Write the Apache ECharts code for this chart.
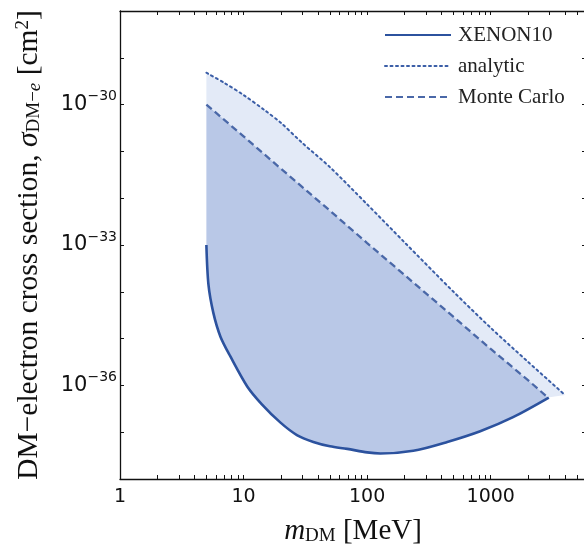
<!DOCTYPE html>
<html>
<head>
<meta charset="utf-8">
<script src="https://cdn.jsdelivr.net/npm/echarts@6/dist/echarts.min.js"></script>
<style>
    html, body { margin: 0; padding: 0; background: #fff; }
    #chart { width: 584px; height: 553px; }
</style>
</head>
<body>
<div id="chart"></div>
<script>
    // m_DM [MeV] and sigma [cm^2]
    var analyticMass = [5, 7, 10, 15, 20, 30, 50, 100, 200, 500, 1000, 2000, 4000];
    var analyticSigma = [4.8e-30, 2.9e-30, 1.6e-30, 7.4e-31, 4.1e-31, 1.5e-31, 4.6e-32, 7.4e-33, 1.15e-33, 1.0e-34, 1.7e-35, 3.2e-36, 6.2e-37];

    var mcMass = [5, 10, 20, 50, 100, 200, 500, 1000, 2000, 2900];
    var mcSigma = [1.0e-30, 2.1e-31, 4.3e-32, 5.4e-33, 1.1e-33, 2.3e-34, 2.9e-35, 6.0e-36, 1.3e-36, 5.5e-37];

    var xenonMass = [5, 5.2, 5.7, 6.5, 7.8, 10.7, 14, 19.9, 27, 36.7, 50, 69, 100, 128, 236, 445, 822, 1516, 2950];
    var xenonSigma = [1.0e-33, 1.4e-34, 3.5e-35, 1.1e-35, 4.2e-36, 9.5e-37, 4.0e-37, 1.6e-37, 8.7e-38, 6.2e-38, 5.0e-38, 4.4e-38, 3.7e-38, 3.5e-38, 4.0e-38, 6.2e-38, 1.05e-37, 2.1e-37, 5.5e-37];

    var xTicks = [1, 2, 3, 4, 5, 6, 7, 8, 9, 10, 20, 30, 40, 50, 60, 70, 80, 90,
        100, 200, 300, 400, 500, 600, 700, 800, 900, 1000, 2000, 3000, 4000, 5000];
    var xLabels = [1, 10, 100, 1000];
    var yTicks = [1e-38, 1e-37, 1e-36, 1e-35, 1e-34, 1e-33, 1e-32, 1e-31, 1e-30, 1e-29, 1e-28];
    var yLabels = [1e-36, 1e-33, 1e-30];

    // echarts rounds log extents badly near 1e-38, so the y axis runs in units of 1e-30 cm^2
    var Y_UNIT = 1e-30;
    var Y_EXP = -30;
    function toUnit(v) { return v / Y_UNIT; }

    function pairs(xs, ys) {
        return xs.map(function (x, i) { return [x, toUnit(ys[i])]; });
    }

    // band between two curves, drawn through the axes
    function band(upper, lower, color) {
        return {
            type: 'custom',
            silent: true,
            z: 1,
            clip: true,
            data: [upper[0]],
            renderItem: function (params, api) {
                var pts = upper.concat(lower.slice().reverse()).map(function (p) {
                    return api.coord(p);
                });
                return {type: 'polygon', shape: {points: pts}, style: {fill: color}};
            }
        };
    }

    var analytic = pairs(analyticMass, analyticSigma);
    var mc = pairs(mcMass, mcSigma);
    var xenon = pairs(xenonMass, xenonSigma);

    var tickFont = 'DejaVu Sans';
    var serif = 'Liberation Serif';
    var black = '#111';

    var xBase = {
        type: 'log',
        logBase: 10,
        min: 1,
        max: 5900,
        z: 10,
        axisLine: {onZero: false, lineStyle: {color: black, width: 1.3}},
        axisTick: {inside: true, length: 4, customValues: xTicks, lineStyle: {color: black}},
        splitLine: {show: false}
    };
    var yBase = {
        type: 'log',
        logBase: 10,
        min: toUnit(1e-38),
        max: toUnit(1e-28),
        z: 10,
        axisLine: {onZero: false, lineStyle: {color: black, width: 1.3}},
        axisTick: {inside: true, length: 4, customValues: yTicks.map(toUnit), lineStyle: {color: black}},
        splitLine: {show: false}
    };

    var myChart = echarts.init(document.getElementById('chart'));
    var option = {
        backgroundColor: '#fff',
        animation: false,
        grid: {left: 120, top: 11, width: 466, height: 468, outerBoundsMode: 'none'},
        legend: {
            orient: 'vertical',
            left: 379,
            top: 19,
            itemWidth: 66,
            itemHeight: 14,
            itemGap: 9,
            itemStyle: {opacity: 0},
            textStyle: {fontFamily: serif, fontSize: 21, lineHeight: 22, color: '#222', padding: [0, 0, 0, 2]},
            data: ['XENON10', 'analytic', 'Monte Carlo']
        },
        xAxis: [
            Object.assign({}, xBase, {
                position: 'bottom',
                axisLabel: {
                    customValues: xLabels,
                    margin: 9,
                    fontFamily: tickFont,
                    fontSize: 19,
                    color: black,
                    formatter: function (v) { return String(Math.round(v)); }
                },
                name: '{i|m}{s|DM}{n| [MeV]}',
                nameLocation: 'middle',
                nameGap: 38,
                nameTextStyle: {
                    rich: {
                        i: {fontFamily: serif, fontStyle: 'italic', fontSize: 29, color: black},
                        s: {fontFamily: serif, fontSize: 19, color: black, verticalAlign: 'bottom'},
                        n: {fontFamily: serif, fontSize: 29, color: black}
                    }
                }
            }),
            Object.assign({}, xBase, {position: 'top', axisLabel: {show: false}})
        ],
        yAxis: [
            Object.assign({}, yBase, {
                position: 'left',
                axisLabel: {
                    customValues: yLabels.map(toUnit),
                    margin: 3,
                    formatter: function (v) {
                        var e = Math.round(Math.log10(v)) + Y_EXP;
                        return '{b|10}{e|' + (e < 0 ? '\u2212' : '') + Math.abs(e) + '}';
                    },
                    rich: {
                        b: {fontFamily: tickFont, fontSize: 21, color: black, lineHeight: 30},
                        e: {fontFamily: tickFont, fontSize: 14, color: black, verticalAlign: 'top', lineHeight: 14}
                    }
                },
                name: '{n|DM\u2212electron cross section, }{i|\u03c3}{s|DM\u2212}{si|e}{n| [cm}{p|2}{n|]}',
                nameLocation: 'middle',
                nameRotate: 90,
                nameGap: 76,
                nameTextStyle: {
                    rich: {
                        n: {fontFamily: serif, fontSize: 29.5, color: black},
                        i: {fontFamily: serif, fontStyle: 'italic', fontSize: 29.5, color: black},
                        s: {fontFamily: serif, fontSize: 19, color: black, verticalAlign: 'bottom'},
                        si: {fontFamily: serif, fontStyle: 'italic', fontSize: 19, color: black, verticalAlign: 'bottom'},
                        p: {fontFamily: serif, fontSize: 19, color: black, verticalAlign: 'top'}
                    }
                }
            }),
            Object.assign({}, yBase, {position: 'right', axisLabel: {show: false}})
        ],
        series: [
            band(analytic, mc, '#e3eaf7'),
            band(mc, xenon, '#b9c8e7'),
            {
                name: 'XENON10',
                type: 'line',
                data: xenon,
                smooth: 0.3,
                symbol: 'none',
                z: 3,
                lineStyle: {color: '#2c529e', width: 2.6}
            },
            {
                name: 'analytic',
                type: 'line',
                data: analytic,
                smooth: 0.3,
                symbol: 'none',
                z: 3,
                lineStyle: {color: '#3b5ea7', width: 2, type: [2, 3.5], cap: 'round'}
            },
            {
                name: 'Monte Carlo',
                type: 'line',
                data: mc,
                symbol: 'none',
                z: 3,
                lineStyle: {color: '#4a68a8', width: 2.3, type: [7, 4]}
            }
        ]
    };
    if (option && typeof option === 'object') {
        myChart.setOption(option, true);
    }
</script>
</body>
</html>
